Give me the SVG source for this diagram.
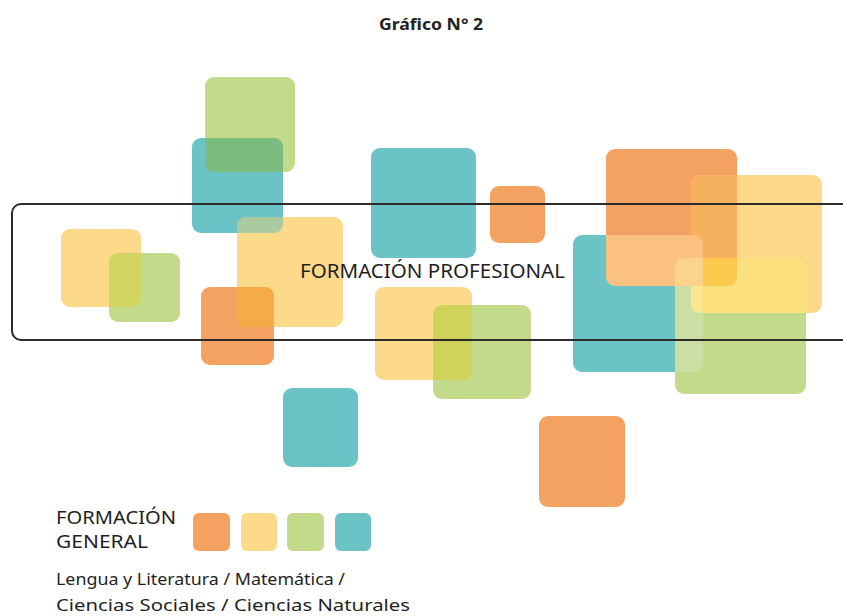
<svg xmlns="http://www.w3.org/2000/svg" xmlns:xlink="http://www.w3.org/1999/xlink" width="843" height="616" viewBox="0 0 843 616">
<style>
.t{fill:#6cc3c5}.g{fill:#c2da8a}.y{fill:#fdd98a}.o{fill:#f3a261}
.lbl{font-family:"Noto Sans","Open Sans","Liberation Sans",sans-serif;fill:#1f1f1f}
.title{font-family:"Noto Sans","Open Sans","Liberation Sans",sans-serif;font-weight:bold;fill:#222}
</style>
<defs>
<rect id="s-g1" x="205" y="77" width="90" height="95" rx="9"/>
<rect id="s-t1" x="192" y="138" width="91" height="95" rx="9"/>
<rect id="s-y1" x="237" y="217" width="106" height="110" rx="9"/>
<rect id="s-o1" x="201" y="287" width="73" height="78" rx="9"/>
<rect id="s-yl" x="61" y="229" width="80" height="78" rx="9"/>
<rect id="s-gl" x="109" y="253" width="71" height="69" rx="9"/>
<rect id="s-t2" x="371" y="148" width="105" height="110" rx="9"/>
<rect id="s-o2" x="490" y="186" width="55" height="57" rx="9"/>
<rect id="s-y2" x="375" y="287" width="97" height="93" rx="9"/>
<rect id="s-g2" x="433" y="305" width="98" height="94" rx="9"/>
<rect id="s-o3" x="606" y="149" width="131" height="137" rx="9"/>
<rect id="s-y3" x="691" y="175" width="131" height="138" rx="9"/>
<rect id="s-t3" x="573" y="235" width="130" height="137" rx="9"/>
<rect id="s-g3" x="675" y="258" width="131" height="136" rx="9"/>
<rect id="s-t4" x="283" y="388" width="75" height="79" rx="9"/>
<rect id="s-o4" x="539" y="416" width="86" height="91" rx="9"/>
<clipPath id="c-t1"><use xlink:href="#s-t1"/></clipPath>
<clipPath id="c-o1"><use xlink:href="#s-o1"/></clipPath>
<clipPath id="c-yl"><use xlink:href="#s-yl"/></clipPath>
<clipPath id="c-y2"><use xlink:href="#s-y2"/></clipPath>
<clipPath id="c-o3"><use xlink:href="#s-o3"/></clipPath>
<clipPath id="c-y3"><use xlink:href="#s-y3"/></clipPath>
<clipPath id="c-t3"><use xlink:href="#s-t3"/></clipPath>
</defs>

<text class="title" x="431" y="30" font-size="16" text-anchor="middle" textLength="104" lengthAdjust="spacingAndGlyphs">Gráfico N° 2</text>

<g id="squares">
<use xlink:href="#s-g1" class="g"/>
<use xlink:href="#s-t1" class="t"/>
<use xlink:href="#s-y1" class="y"/>
<use xlink:href="#s-o1" class="o"/>
<use xlink:href="#s-yl" class="y"/>
<use xlink:href="#s-gl" class="g"/>
<use xlink:href="#s-t2" class="t"/>
<use xlink:href="#s-o2" class="o"/>
<use xlink:href="#s-y2" class="y"/>
<use xlink:href="#s-g2" class="g"/>
<use xlink:href="#s-o3" class="o"/>
<use xlink:href="#s-y3" class="y"/>
<use xlink:href="#s-t3" class="t"/>
<use xlink:href="#s-g3" class="g"/>
<use xlink:href="#s-t4" class="t"/>
<use xlink:href="#s-o4" class="o"/>
</g>

<g id="overlaps">
<g clip-path="url(#c-t1)"><use xlink:href="#s-g1" fill="#7bbd80"/><use xlink:href="#s-y1" fill="#a9cb9f"/></g>
<g clip-path="url(#c-o1)"><use xlink:href="#s-y1" fill="#f7aa48"/></g>
<g clip-path="url(#c-yl)"><use xlink:href="#s-gl" fill="#d2d55f"/></g>
<g clip-path="url(#c-y2)"><use xlink:href="#s-g2" fill="#d0d35a"/></g>
<g clip-path="url(#c-o3)"><use xlink:href="#s-y3" fill="#f6b15e"/></g>
<g clip-path="url(#c-y3)"><use xlink:href="#s-g3" fill="#fde07e"/></g>
<g clip-path="url(#c-o3)"><g clip-path="url(#c-y3)"><use xlink:href="#s-g3" fill="#fbc94e"/></g></g>
<g clip-path="url(#c-t3)"><use xlink:href="#s-g3" fill="#cbdfa5"/></g>
<g clip-path="url(#c-t3)"><g clip-path="url(#c-y3)"><use xlink:href="#s-g3" fill="#fde68f"/></g></g>
<g clip-path="url(#c-t3)"><use xlink:href="#s-o3" fill="#fbc17f"/></g>
<g clip-path="url(#c-t3)"><g clip-path="url(#c-o3)"><use xlink:href="#s-g3" fill="#fcd38c"/></g></g>
</g>

<g id="formacion-profesional">
<rect x="12" y="204" width="860" height="136" rx="9" fill="none" stroke="#2b2b2b" stroke-width="2"/>
<text class="lbl" x="300" y="278" font-size="19" textLength="265" lengthAdjust="spacingAndGlyphs">FORMACIÓN PROFESIONAL</text>
</g>

<g id="formacion-general">
<text class="lbl" x="56" y="524" font-size="18" textLength="120" lengthAdjust="spacingAndGlyphs">FORMACIÓN</text>
<text class="lbl" x="56" y="548" font-size="18" textLength="92" lengthAdjust="spacingAndGlyphs">GENERAL</text>
<rect class="o" x="193" y="513" width="37" height="38" rx="6"/>
<rect class="y" x="241" y="513" width="36" height="38" rx="6"/>
<rect class="g" x="287" y="513" width="37" height="38" rx="6"/>
<rect class="t" x="335" y="513" width="36" height="38" rx="6"/>
<text class="lbl" x="56" y="585" font-size="16" textLength="289" lengthAdjust="spacingAndGlyphs">Lengua y Literatura / Matemática /</text>
<text class="lbl" x="56" y="611" font-size="16" textLength="354" lengthAdjust="spacingAndGlyphs">Ciencias Sociales / Ciencias Naturales</text>
</g>
</svg>
